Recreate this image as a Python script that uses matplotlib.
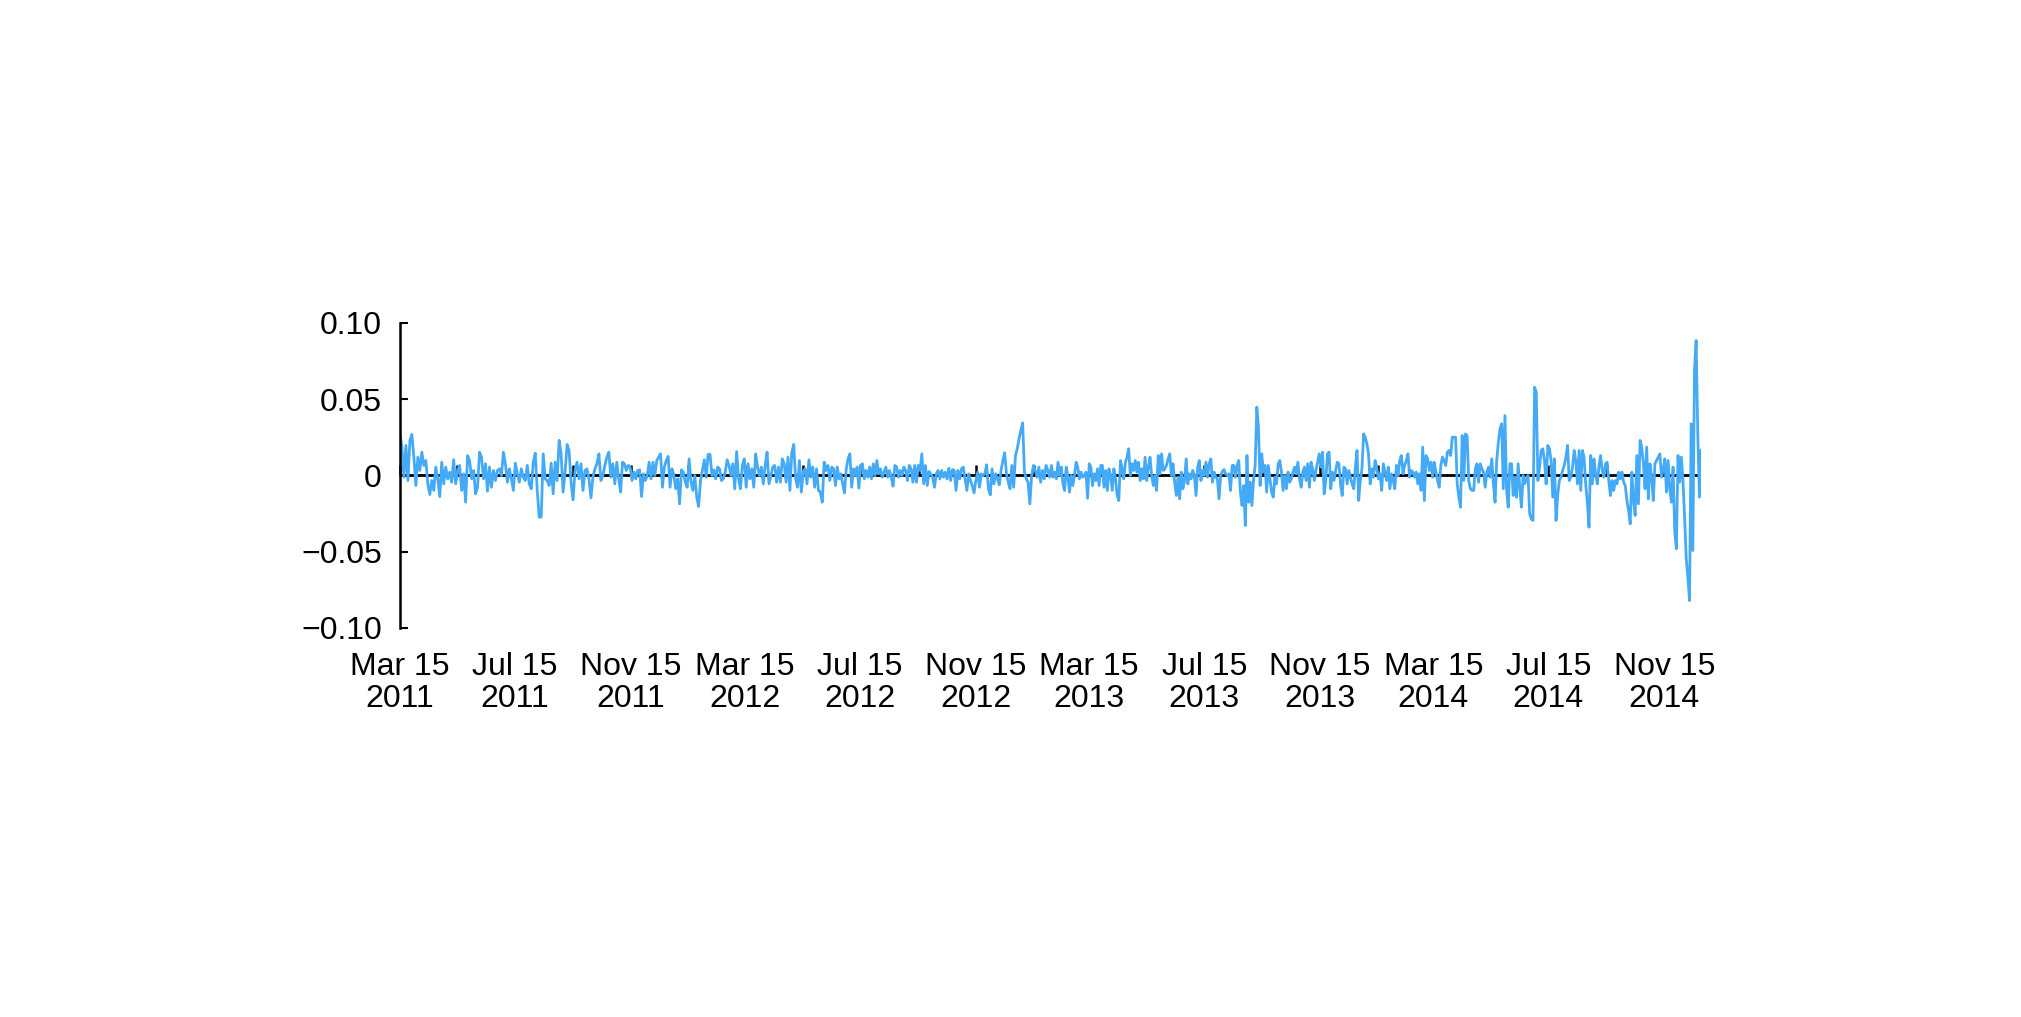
import numpy as np
import pandas as pd
import matplotlib
matplotlib.use("Agg")
import matplotlib.pyplot as plt
import matplotlib.dates as mdates

# daily returns, in percent, one list per stretch of dates
seg_edges = ["2011-03-15", "2011-10-31", "2012-06-17", "2013-02-03",
             "2013-09-21", "2014-05-09", "2014-12-24"]

seg1 = [2.69, 1.86, -0.11, 1.97, -0.33, 2.30, 2.69, 1.20, -0.66, 1.20, 0.33, 1.53,
        0.66, 0.98, -0.55, -1.25, -0.33, -0.98, 0.55, -0.22, -1.38, 0.87, -0.55, 0.55,
        -0.22, 0.22, -0.44, 1.03, -0.55, 0.33, 0.66, -0.98, 0.11, -1.75, 1.31, 0.98,
        -0.22, 0.33, -1.20, -0.77, 1.53, 1.20, -0.22, 0.77, -1.03, 0.55, -0.77, 0.33,
        -0.33, 0.33, 0.44, 0.00, 1.53, 0.77, -0.44, 0.44, -0.22, -0.98, 0.81, 0.11,
        -0.44, 0.44, -0.11, -0.33, 0.66, -0.55, -0.87, 0.87, 1.46, -0.98, -2.73, -2.73,
        1.42, -0.22, -0.33, -0.66, 0.81, -1.20, 0.87, -0.33, 2.30, 1.42, -1.09, 0.22,
        2.03, 1.64, -0.44, -1.60, 0.33, 0.87, -0.22, 0.77, -0.98, 0.33, 0.44, -0.22,
        -1.46, -0.11, 0.44, 0.77, 1.42, -0.33, 0.00, 0.66, 1.20, 1.53, -0.11, 0.77, -0.55]

seg2 = [0.87, -0.22, -1.09, 0.87, 0.77, 0.33, 0.66, 0.55, -0.33, 0.22, -0.22, 0.33,
        0.37, -1.38, 0.11, -0.33, 0.00, 0.87, -0.22, 0.87, 0.00, 0.98, 1.20, 1.42,
        -0.77, 0.55, 0.98, 1.25, -0.77, 0.44, 0.00, -0.87, -0.22, -1.86, 0.37, 0.22,
        -0.44, -0.77, 1.09, -0.44, -0.98, 0.00, -1.42, -2.03, -0.33, 0.33, 1.03, -0.11,
        1.38, 1.38, 0.00, 0.37, -0.22, 0.55, 0.44, -0.33, -0.22, 0.22, 1.03, 0.66,
        0.00, 0.77, -0.87, 1.57, -0.22, -0.87, 0.66, 1.09, -0.77, 0.77, -0.22, 0.44,
        -0.77, 1.42, 0.55, 0.00, 0.55, -0.55, 0.66, 1.53, -0.55, 0.00, 0.55, 0.66,
        -0.44, 0.55, -0.44, 1.09, 0.77, -0.44, 1.20, -0.98, 1.53, 2.03, -0.22, -0.77,
        0.98, -1.09, 0.22, 0.44, -0.55, 1.03, -0.11, 0.55, -0.77, 0.44, -0.98, -1.09,
        -1.75, 0.87, 0.33, 0.66, -0.33, 0.55]

seg3 = [0.44, -0.66, 0.55, -0.22, 0.11, -0.55, -1.14, 0.44, 1.09, 1.42, -0.77, 0.44,
        0.00, 0.55, -0.83, 0.66, 0.77, -0.22, 0.33, -0.11, 0.55, -0.22, 0.77, 0.00,
        0.98, 0.11, 0.44, -0.11, 0.22, 0.55, -0.11, 0.33, -0.11, -0.70, 0.66, 0.55,
        -0.11, 0.33, 0.00, 0.55, 0.33, -0.33, 0.66, 0.44, -0.44, 0.66, -0.44, 0.66,
        0.33, 1.42, -0.55, 0.66, -0.66, 0.26, 0.11, -0.11, -0.77, 0.11, 0.33, -0.22,
        0.33, -0.11, 0.22, -0.22, 0.48, -0.33, 0.39, 0.33, -0.98, 0.33, -0.22, 0.44,
        0.55, -0.22, -0.98, 0.11, -0.33, -0.66, -1.14, -0.33, 0.22, -0.77, 0.11, 0.00,
        0.11, 0.70, -0.87, -1.27, 0.44, -0.55, 0.11, -0.22, -0.61, 0.33, 0.98, 1.49,
        0.11, -0.44, -0.87, 0.66, -0.77, 1.31, 1.75, 2.40, 2.95, 3.45, 0.22, -0.22,
        -0.44, -1.86, 0.00, 0.66, 0.33, -0.11, 0.55, -0.44, 0.33, -0.22, 0.66, 0.33, -0.11]

seg4 = [0.66, -0.11, 0.22, -0.22, 0.87, 0.00, 0.55, -0.55, -0.98, 0.55, -0.11, -1.09,
        0.00, -0.66, 0.00, 0.87, 0.55, -0.22, 0.22, -0.11, 0.00, 0.22, -1.49, 0.77,
        0.55, -0.66, 0.11, -0.33, 0.44, -0.66, 0.66, 0.66, -0.77, 0.33, -0.98, 0.44,
        0.00, -0.98, 0.44, -0.22, -1.31, -1.64, 0.98, 0.44, -0.22, 0.87, 1.20, 1.75,
        0.00, 0.77, 0.33, 0.98, 0.22, 0.87, -0.33, 0.44, -0.22, 1.20, -0.33, 0.55,
        1.20, 0.00, -0.66, 0.00, -0.98, 1.31, 0.11, 1.42, 0.33, 0.44, 0.66, 1.09,
        1.42, 0.00, 0.77, -0.44, -1.31, -0.11, -1.53, 0.22, -0.87, -0.33, 1.09, -0.55,
        0.11, -0.22, 0.33, 0.00, -1.31, 0.55, 0.98, -0.33, 0.33, 0.00, 0.87, -0.11,
        0.77, 1.09, -0.44, 0.22, -0.11, -0.22, -1.53, 0.00, 0.26, 0.39, 0.11, 0.00,
        0.11, -0.98, 0.66, 0.66, -0.11, 0.66, 0.98, -1.09, -1.97, -0.66, -3.28, 1.31,
        -1.75, -0.44, -1.97, -0.33, 0.66, 4.48, 3.17, -0.66, 1.42, 0.22, 0.66, -1.09]

seg5 = [0.66, -0.22, -1.09, -1.42, -0.11, -0.55, 0.77, 0.98, 0.22, -0.98, 0.00, -0.87,
        0.22, -0.44, -0.22, 0.22, 0.55, 0.11, 0.87, -0.22, -0.77, 0.22, 0.55, -0.33,
        0.77, -0.77, 0.87, 0.44, -0.33, 0.33, 0.87, 1.42, 0.55, 1.53, -1.20, -0.33,
        1.42, 1.53, -0.87, 0.22, -0.33, 0.33, 0.87, 0.77, -0.66, -1.31, 0.55, 0.44,
        -0.55, 0.33, -0.11, -0.55, -0.87, 0.55, 1.64, -1.64, -0.33, 0.44, 2.73, 2.51,
        2.08, 1.42, -0.55, 0.44, -0.11, 0.98, 0.55, -0.22, 0.11, -0.98, 0.77, 0.22,
        -0.33, 0.55, -0.87, 0.11, -0.33, -0.87, 0.66, 0.00, 0.98, 1.31, 0.11, 0.66,
        0.98, 1.42, -0.11, 0.33, 0.22, -0.11, 0.22, -0.55, 0.11, -0.98, 1.86, -1.64,
        1.31, 1.09, 0.33, 0.87, -0.11, 0.87, 0.22, -0.33, -0.77, 0.66, 1.20, 0.98,
        0.66, 1.53, 1.64, 1.31, 2.51, 2.51, 2.51, -0.55, -1.42, -2.08, 2.62, -0.33,
        2.73, 2.62, -0.33, -0.87, -0.98, -0.98, 0.44, 0.77, -0.44, 0.77, 0.44, 0.22]

seg6 = [-0.77, 0.22, 0.55, -0.11, 1.09, -0.55, -1.75, 0.98, 2.19, 3.06, 3.39, -0.87,
        3.93, -0.98, -2.08, 0.77, 0.77, -1.31, -0.11, -1.42, 0.77, -0.77, -2.08, 0.00,
        -0.55, -0.22, 0.00, -2.51, -2.84, -2.95, 5.79, 5.46, -0.33, 0.55, 1.64, 1.75,
        0.98, -0.55, 1.97, 1.75, 0.98, -1.42, 1.09, -2.95, -1.31, -0.33, -0.11, 0.33,
        0.66, 1.20, 1.97, -0.33, -0.11, 0.55, 1.64, 0.98, -0.55, 1.64, -0.98, 1.64,
        1.20, -0.55, -1.75, -3.39, 1.31, -0.55, 1.09, 0.11, -0.55, 0.55, 1.31, 0.33,
        -0.11, 0.77, 0.87, -0.33, -1.31, -0.33, -0.98, -0.33, -0.55, 0.22, -0.22, 0.22,
        -0.44, -0.66, -1.64, -2.30, -3.17, 0.22, -1.64, -2.62, 1.31, -1.86, 2.30, 1.86,
        0.77, -0.87, 1.86, -1.53, 0.77, -0.11, -1.64, 0.77, 0.98, 1.20, 1.42, -0.11,
        0.44, 1.09, -1.09, 0.98, -0.87, -1.75, 0.55, -3.61, -4.81, 1.31, -0.44, 1.20,
        -0.33, -2.73, -5.46, -6.67, -8.20, 3.39, -4.92, 6.89, 8.85, 2.73, -1.42, 1.64]

segments = [seg1, seg2, seg3, seg4, seg5, seg6]

y_ticks = [-0.10, -0.05, 0.0, 0.05, 0.10]
y_labels = ["\u22120.10", "\u22120.05", "0", "0.05", "0.10"]
label_dates = pd.date_range("2011-03-15", "2014-11-15", freq=pd.DateOffset(months=4))
mark_dates = pd.date_range("2011-03-15", "2014-11-15", freq=pd.DateOffset(months=2))

# spread each stretch of readings evenly over its dates
edges = mdates.date2num(pd.to_datetime(seg_edges))
xs = []
for i, seg in enumerate(segments):
    last = i == len(segments) - 1
    xs.append(np.linspace(edges[i], edges[i + 1], len(seg), endpoint=last))
x = np.concatenate(xs)
y = np.concatenate([np.array(s) for s in segments]) / 100.0

plt.rcParams["font.family"] = ["Liberation Sans", "DejaVu Sans"]

fig = plt.figure(figsize=(20.21, 10.17), dpi=100)
ax = fig.add_axes([0.1979, 0.3825, 0.6438, 0.2999])

ax.axhline(0, color="black", lw=2.0, zorder=1)
ax.plot(x, y, color="#44aaf8", lw=2.0, zorder=2)

ax.set_xlim(edges[0], edges[-1])
ax.set_ylim(-0.10, 0.10)
ax.xaxis_date()

for side in ["top", "right", "bottom"]:
    ax.spines[side].set_visible(False)
ax.spines["left"].set_linewidth(1.8)

ax.set_yticks(y_ticks)
ax.set_yticklabels(y_labels)
ax.tick_params(axis="y", direction="in", length=5.5, width=1.5, pad=13, labelsize=23)

ax.set_xticks(mdates.date2num(label_dates))
ax.set_xticklabels([d.strftime("%b %d\n%Y") for d in label_dates], linespacing=1.1)
ax.tick_params(axis="x", length=0, pad=17, labelsize=23)

# little tick marks standing on the zero line
sec = ax.secondary_xaxis(0.5)
sec.spines["top"].set_visible(False)
sec.spines["bottom"].set_visible(False)
sec.set_xticks(mdates.date2num(mark_dates))
sec.tick_params(axis="x", direction="out", length=7, width=1.8,
                labeltop=False, labelbottom=False)

fig.savefig("out.png", dpi=100)
